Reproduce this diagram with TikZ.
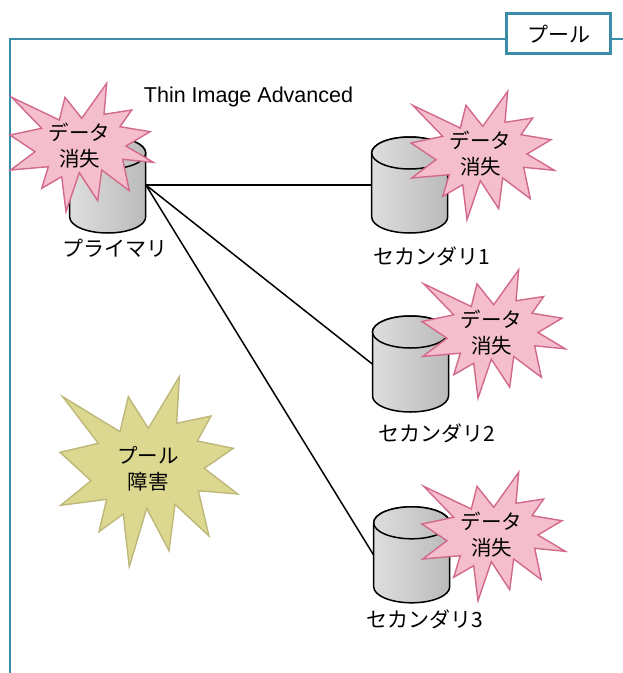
\documentclass[tikz,border=0pt]{standalone}
\usepackage{fontspec}
\setmainfont{Liberation Sans}
\newfontfamily\jpfont{Noto Sans CJK JP}
\definecolor{frameteal}{HTML}{3B8CA6}
\definecolor{pinkfill}{HTML}{F4BECC}
\definecolor{pinkline}{HTML}{D2698B}
\definecolor{yelfill}{HTML}{DCD88F}
\definecolor{yelline}{HTML}{BDB87A}
\tikzset{
  frameline/.style={draw=frameteal,line width=2.9pt},
  poolbox/.style={draw=frameteal,line width=2.9pt,fill=white,minimum width=104pt,minimum height=40pt,inner sep=0pt,font=\jpfont\fontsize{21}{24}\selectfont},
  cylbody/.style={draw=black,line width=1.5pt,left color=black!13,right color=black!27},
  cylanchor/.style={inner sep=0pt,minimum width=76pt,minimum height=96.5pt},
  link/.style={draw=black,line width=1.5pt},
  jplabel/.style={inner sep=0pt,font=\jpfont\fontsize{21}{24}\selectfont},
  startext/.style={inner sep=0pt,align=center,font=\jpfont\fontsize{20.5}{26}\selectfont},
  pinkstar/.style={fill=pinkfill,draw=pinkline,line width=1.4pt,line join=miter},
  yelstar/.style={fill=yelfill,draw=yelline,line width=1.4pt,line join=miter}
}
% cylinder: name, centre x, centre y
\newcommand{\mycyl}[3]{%
  \begin{scope}[shift={(#2,#3)}]
    \path[cylbody] (-38,-32) -- (-38,32) arc[start angle=180,end angle=360,x radius=38,y radius=-16] -- (38,-32) arc[start angle=0,end angle=180,x radius=38,y radius=-16] -- cycle;
    \path[cylbody] (0,-32) ellipse[x radius=38,y radius=16];
    \node[cylanchor] (#1) at (0,0) {};
  \end{scope}}
% burst outline: style, shift x, shift y
\newcommand{\myburst}[3]{%
  \path[#1,shift={(#2,#3)}] (11.7,97.3) -- (59.3,120) -- (65,97.3) -- (81.7,118.3) -- (106.7,83.3) -- (104,114.3) -- (131.7,110) -- (120,126.7) -- (150,131.7) -- (126,146) -- (153.3,162.3) -- (122.7,159.3) -- (129.3,190.7) -- (101.7,170) -- (97.7,200.7) -- (79.3,172.7) -- (66,211.7) -- (61.7,176.7) -- (41.7,188.3) -- (48.3,166.7) -- (10.7,170) -- (35,151.7) -- (10,135) -- (41.7,128.3) -- cycle;}
\begin{document}
\begin{tikzpicture}[x=1pt,y=-1pt]
\useasboundingbox (0,0) rectangle (623,673);
\coordinate (frameBL) at (10,673);
\coordinate (frameTL) at (10,39);
\coordinate (frameTR) at (623,39);
\path[frameline] (frameBL) -- (frameTL) -- (frameTR);
\node[poolbox] (pool) at (558.8,33.3) {};
\node[inner sep=0pt,font=\jpfont\fontsize{21}{24}\selectfont] (pooltxt) at (559,34.5) {プール};
\node[inner sep=0pt,font=\fontsize{21.5}{24}\selectfont] (title) at (248.5,97) {Thin Image Advanced};
\mycyl{prim}{107.7}{185}
\mycyl{sec1}{409.7}{185}
\mycyl{sec2}{410.5}{364}
\mycyl{sec3}{411.7}{554.8}
\draw[link] (prim.east) -- (sec1.west);
\draw[link] (prim.east) -- (sec2.west);
\draw[link] (prim.east) -- (sec3.west);
\node[jplabel] (lprim) at (115,248) {プライマリ};
\node[jplabel] (lsec1) at (432,256) {セカンダリ1};
\node[jplabel] (lsec2) at (437,433) {セカンダリ2};
\node[jplabel] (lsec3) at (425,619) {セカンダリ3};
\myburst{pinkstar}{0}{0}
\myburst{pinkstar}{401}{8}
\myburst{pinkstar}{412}{186.5}
\myburst{pinkstar}{412}{389}
\node[startext] (s0) at (79.5,146) {データ\\消失};
\node[startext] (s1) at (480.5,154) {データ\\消失};
\node[startext] (s2) at (491.5,332.5) {データ\\消失};
\node[startext] (s3) at (491.5,535) {データ\\消失};
\path[yelstar] (62.7,396.7) -- (120,431.7) -- (128.3,396.7) -- (148.3,428.3) -- (179.3,376.7) -- (176.7,423.3) -- (211,416) -- (197.3,441) -- (233.3,448.3) -- (204.3,468.3) -- (237.7,494) -- (198.3,490.7) -- (209,536) -- (175,504.3) -- (169,550.7) -- (146.7,508.3) -- (129.3,566.7) -- (123.3,514) -- (99,531.7) -- (106.7,499.3) -- (60.7,505.3) -- (91,480.7) -- (60,452.3) -- (98.3,443.3) -- cycle;
\node[startext] (pf) at (148,468.5) {プール\\障害};
\end{tikzpicture}
\end{document}
